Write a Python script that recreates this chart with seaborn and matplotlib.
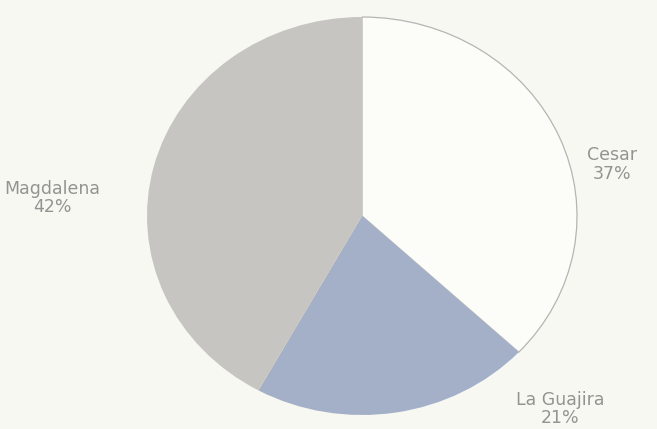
import matplotlib
matplotlib.use("Agg")
import matplotlib.pyplot as plt
import seaborn as sns

# Share by department
departments = ["Cesar", "La Guajira", "Magdalena"]
shares = [37, 21, 42]

# Label anchor points (axes units, pie radius = 1)
label_x = [1.165, 0.92, -1.44]
label_y = [0.26, -0.97, 0.09]

sns.set_theme(style="white")
plt.rcParams["font.family"] = ["Liberation Sans Narrow", "DejaVu Sans"]

bg = "#f8f8f3"
colors = sns.color_palette(["#fcfcf9", "#a4b0c8", "#c6c5c2"])

fig = plt.figure(figsize=(6.57, 4.29), dpi=100, facecolor=bg)
ax = fig.add_axes([0, 0, 1, 1])
ax.set_facecolor(bg)

wedges, _ = ax.pie(
    shares,
    colors=colors,
    startangle=90,
    counterclock=False,
    radius=1.0,
    center=(0, 0),
    wedgeprops=dict(linewidth=0),
    frame=False,
)
wedges[0].set_edgecolor("#b5b5b2")
wedges[0].set_linewidth(0.9)

# slightly wider than tall, as printed
ax.set_aspect("auto")
ax.set_xlim(-362 / 215, (657 - 362) / 215)
ax.set_ylim(-(429 - 216) / 199, 216 / 199)
ax.axis("off")

for name, val, x, y in zip(departments, shares, label_x, label_y):
    ax.text(x, y, f"{name}\n{val}%", ha="center", va="center",
            fontsize=12.5, color="#939391", linespacing=1.05)

fig.savefig("out.png", dpi=100, facecolor=bg)
